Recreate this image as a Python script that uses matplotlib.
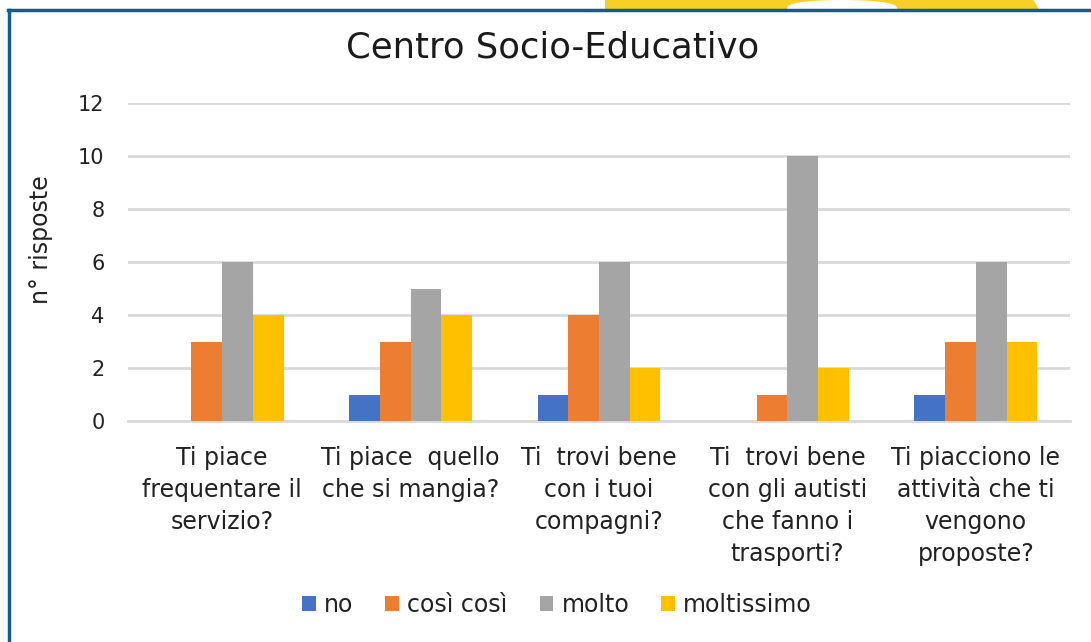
import matplotlib
matplotlib.use("Agg")
import matplotlib.pyplot as plt
import numpy as np
from matplotlib.patches import Polygon
from matplotlib.lines import Line2D

# Survey answers per question
categories = [
    "Ti piace\nfrequentare il\nservizio?",
    "Ti piace  quello\nche si mangia?",
    "Ti  trovi bene\ncon i tuoi\ncompagni?",
    "Ti  trovi bene\ncon gli autisti\nche fanno i\ntrasporti?",
    "Ti piacciono le\nattività che ti\nvengono\nproposte?",
]
series_names = ["no", "così così", "molto", "moltissimo"]
no_vals = [0, 1, 1, 0, 1]
cosi_vals = [3, 3, 4, 1, 3]
molto_vals = [6, 5, 6, 10, 6]
moltissimo_vals = [4, 4, 2, 2, 3]
y_ticks = [0, 2, 4, 6, 8, 10, 12]

colors = ["#4472C4", "#ED7D31", "#A5A5A5", "#FFC000"]
text_color = "#222222"

plt.rcParams["font.family"] = ["DejaVu Sans"]

W, H = 1091, 642
fig = plt.figure(figsize=(W / 100, H / 100), dpi=100)
fig.patch.set_facecolor("white")

ax = fig.add_axes([128 / W, 1 - 421 / H, (1070 - 128) / W, (421 - 103) / H])

x = np.arange(len(categories))
bar_w = 0.163
values = [no_vals, cosi_vals, molto_vals, moltissimo_vals]
for i, (name, vals, c) in enumerate(zip(series_names, values, colors)):
    ax.bar(x + (i - 1.5) * bar_w, vals, width=bar_w, color=c, label=name, zorder=3)

ax.set_xlim(-0.5, len(categories) - 0.5)
ax.set_ylim(0, 12)
ax.set_yticks(y_ticks)
ax.set_yticklabels([str(t) for t in y_ticks], fontsize=15, color=text_color)
ax.set_xticks(x)
ax.set_xticklabels(categories, fontsize=17, color=text_color, linespacing=1.42,
                   va="top")
ax.tick_params(axis="both", length=0)
ax.tick_params(axis="y", pad=17)
ax.tick_params(axis="x", pad=18)
ax.yaxis.grid(True, color="#D9D9D9", linewidth=2, zorder=0)
for s in ["top", "right", "left"]:
    ax.spines[s].set_visible(False)
ax.spines["bottom"].set_color("#D9D9D9")
ax.spines["bottom"].set_linewidth(2)
ax.set_ylabel("n° risposte", fontsize=17, color=text_color)
ax.yaxis.set_label_coords((53 - 128) / 942, (421 - 240) / 318)

fig.text(553 / W, 1 - 48 / H, "Centro Socio-Educativo", ha="center", va="center",
         fontsize=25.5, color="#1a1a1a")

ax.legend(loc="center", bbox_to_anchor=(557 / W, 1 - 605 / H),
          bbox_transform=fig.transFigure, ncol=4, frameon=False, fontsize=17,
          handlelength=0.58, handleheight=0.58, handletextpad=0.35,
          columnspacing=1.35, labelcolor=text_color)

# Decorative frame and yellow band with a rounded notch at the top
px = lambda xp, yp: (xp / W, 1 - yp / H)
t = np.linspace(np.pi, 0, 40)
notch = [px(842 + 55 * np.cos(tt), 9 - 9 * np.sin(tt) ** 0.7) for tt in t]
outline = [px(605, 9), px(605, -2), px(1032, -2), px(1039, 9)] + notch[::-1]
fig.add_artist(Polygon(outline, closed=True, facecolor="#F8CF26",
                       edgecolor="none", transform=fig.transFigure))
fig.add_artist(Line2D([9 / W, 9 / W], [1 - 9.5 / H, 0],
                      color="#0F5E8E", linewidth=2.5, transform=fig.transFigure))
fig.add_artist(Line2D([8.4 / W, 1], [1 - 9.5 / H, 1 - 9.5 / H],
                      color="#0F5E8E", linewidth=2.5, transform=fig.transFigure))

fig.savefig("out.png", dpi=100, facecolor="white")
